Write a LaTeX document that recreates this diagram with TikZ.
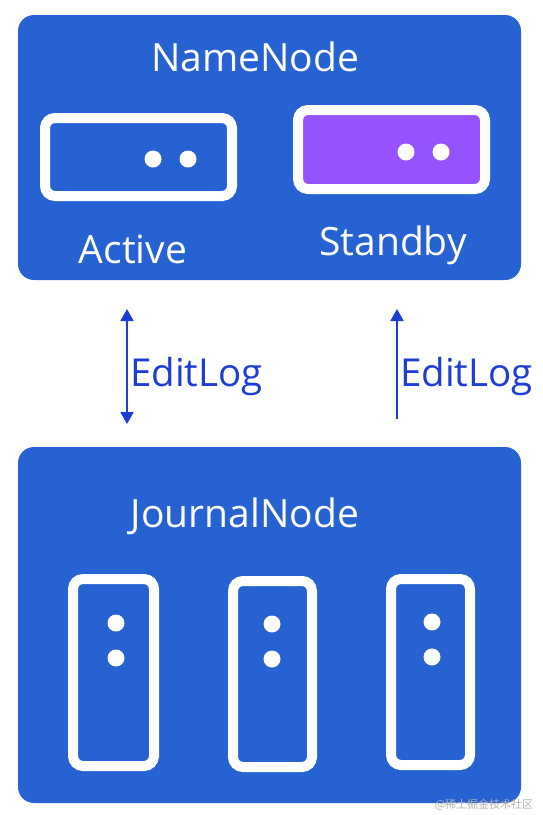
\documentclass[tikz,border=0pt]{standalone}
\usepackage{fontspec}
\setmainfont{Open Sans}
\newfontfamily\cjkfont{Noto Sans CJK SC}
\usetikzlibrary{arrows.meta}
\definecolor{panelblue}{RGB}{38,98,209}
\definecolor{standbypurple}{RGB}{150,82,255}
\definecolor{arrowblue}{RGB}{28,62,214}
\tikzset{
  panel/.style={fill=panelblue, rounded corners=16pt},
  server/.style={draw=white, line width=10pt, rounded corners=10pt},
  dotw/.style={fill=white, draw=none},
  title/.style={text=white, font=\fontsize{39}{44}\selectfont, inner sep=0pt},
  edit/.style={text=arrowblue, font=\fontsize{38.5}{44}\selectfont, inner sep=0pt, anchor=west},
  conn/.style={draw=arrowblue, line width=2pt},
  tip/.style={Triangle[width=13pt,length=12pt]},
}
\begin{document}
\begin{tikzpicture}[x=1pt,y=-1pt]
\useasboundingbox (0,0) rectangle (542,815);
\fill[white] (0,0) rectangle (542,815);
% top panel
\path[panel] (18,15) rectangle (521,280);
\node[title] (nn) at (255,57) {NameNode};
\path[server, fill=panelblue] (45,118) rectangle (232,196);
\fill[dotw] (153,159) circle (8.5);
\fill[dotw] (188,159) circle (8.5);
\node[title] (act) at (133,249) {Active};
\path[server, fill=standbypurple] (298,110) rectangle (485,189);
\fill[dotw] (406,152) circle (8.5);
\fill[dotw] (441,152) circle (8.5);
\node[title] (stb) at (393,245) {Standby};
% connectors
\coordinate (a1t) at (127,309);
\coordinate (a1b) at (127,424);
\coordinate (a2t) at (397,309);
\coordinate (a2b) at (397,419);
\draw[conn, {Triangle[width=13pt,length=12pt]}-{Triangle[width=13pt,length=12pt]}] (a1t) -- (a1b);
\draw[conn, {Triangle[width=13pt,length=12pt]}-] (a2t) -- (a2b);
\node[edit] (e1) at (130,376) {EditLog};
\node[edit] (e2) at (400,376) {EditLog};
% bottom panel
\path[panel] (18,447) rectangle (521,803);
\node[title] (jn) at (245,516) {JournalNode};
\path[server, fill=panelblue] (73,579) rectangle (154,766);
\fill[dotw] (116,623) circle (8.5);
\fill[dotw] (116,658) circle (8.5);
\path[server, fill=panelblue] (233,581) rectangle (312,767);
\fill[dotw] (272,624) circle (8.5);
\fill[dotw] (272,659) circle (8.5);
\path[server, fill=panelblue] (391,579) rectangle (470,765);
\fill[dotw] (432,622) circle (8.5);
\fill[dotw] (432,657) circle (8.5);
% watermark
\node[text=black!30, font=\cjkfont\fontsize{11}{13}\selectfont, inner sep=0pt] (wm) at (484,805) {@稀土掘金技术社区};
\end{tikzpicture}
\end{document}
